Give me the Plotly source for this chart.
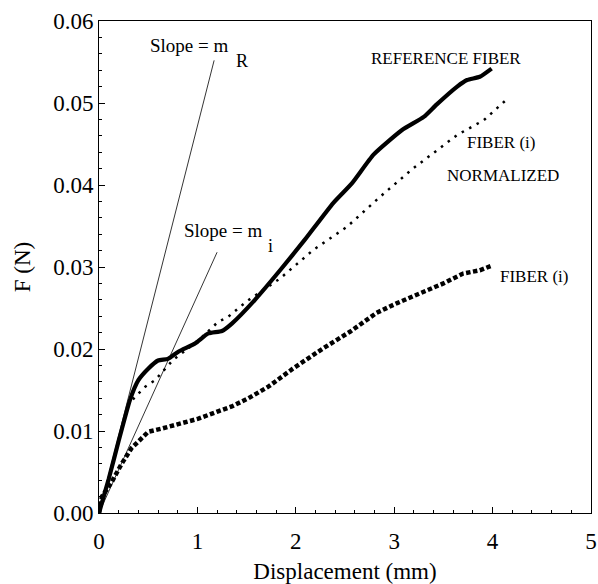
import plotly.graph_objects as go

# Reference fiber (solid)
ref_x = [0, 0.1, 0.2, 0.315, 0.40, 0.50, 0.60, 0.70, 0.81, 0.98, 1.11, 1.25, 1.35, 1.585,
         1.84, 2.09, 2.38, 2.57, 2.79, 3.08, 3.30, 3.43, 3.64, 3.74, 3.87, 3.99]
ref_F = [0, 0.0042, 0.0088, 0.0138, 0.0162, 0.0176, 0.0186, 0.0188, 0.0197, 0.0207, 0.0219,
         0.0222, 0.0231, 0.0260, 0.0296, 0.0333, 0.0378, 0.0402, 0.0437, 0.0467, 0.0483,
         0.0498, 0.0520, 0.0528, 0.0532, 0.0542]

# Fiber (i) normalized (small dots)
norm_x = [0, 0.1, 0.2, 0.3, 0.37, 0.47, 0.57, 0.67, 0.755, 0.9, 1.05, 1.21, 1.31, 1.5,
          1.84, 2.18, 2.52, 2.86, 3.19, 3.64, 3.91, 4.14]
norm_F = [0, 0.0042, 0.0088, 0.0132, 0.0142, 0.0154, 0.0162, 0.0176, 0.0187, 0.0200, 0.0215,
          0.0233, 0.0239, 0.0258, 0.0286, 0.0321, 0.0349, 0.0386, 0.0420, 0.0461, 0.0479, 0.0504]

# Fiber (i) raw (square dots)
fib_x = [0, 0.03, 0.13, 0.23, 0.33, 0.40, 0.50, 0.64, 0.81, 1.01, 1.21, 1.35, 1.52, 1.72,
         1.97, 2.28, 2.55, 2.82, 3.03, 3.26, 3.50, 3.70, 3.87, 4.0]
fib_F = [0, 0.002, 0.0038, 0.0060, 0.0079, 0.0087, 0.0099, 0.0103, 0.0109, 0.0115, 0.0124,
         0.0130, 0.0140, 0.0154, 0.0176, 0.0201, 0.0221, 0.0244, 0.0256, 0.0268, 0.0280,
         0.0292, 0.0296, 0.0302]

# Slope lines
slopeR_x = [0, 1.17]
slopeR_F = [0, 0.0552]
slopei_x = [0, 1.2]
slopei_F = [0, 0.0318]

x_ticks = [0, 1, 2, 3, 4, 5]
y_ticks = [0.00, 0.01, 0.02, 0.03, 0.04, 0.05, 0.06]

FONT = "Liberation Serif, Times New Roman, serif"

fig = go.Figure()
fig.add_trace(go.Scatter(x=slopeR_x, y=slopeR_F, mode="lines",
                         line=dict(color="black", width=0.8), showlegend=False))
fig.add_trace(go.Scatter(x=slopei_x, y=slopei_F, mode="lines",
                         line=dict(color="black", width=0.8), showlegend=False))
fig.add_trace(go.Scatter(x=fib_x, y=fib_F, mode="lines",
                         line=dict(color="black", width=4.5, dash="4.5px,2.5px"), showlegend=False))
fig.add_trace(go.Scatter(x=norm_x, y=norm_F, mode="lines",
                         line=dict(color="black", width=2.5, dash="2.5px,6px"), showlegend=False))
fig.add_trace(go.Scatter(x=ref_x, y=ref_F, mode="lines",
                         line=dict(color="black", width=4.2, shape="spline", smoothing=0.5),
                         showlegend=False))

annotations = [
    dict(x=0.498, y=0.05707, text="Slope = m", size=19, anchor="left"),
    dict(x=1.458, y=0.0551, text="R", size=18, anchor="center"),
    dict(x=0.8435, y=0.03451, text="Slope = m", size=19, anchor="left"),
    dict(x=1.743, y=0.03256, text="i", size=18, anchor="center"),
    dict(x=2.744, y=0.05537, text="REFERENCE FIBER", size=17, anchor="left"),
    dict(x=3.72, y=0.04524, text="FIBER (i)", size=17, anchor="left"),
    dict(x=3.516, y=0.0411, text="NORMALIZED", size=17, anchor="left"),
    dict(x=4.055, y=0.0289, text="FIBER (i)", size=17, anchor="left"),
]
for a in annotations:
    fig.add_annotation(x=a["x"], y=a["y"], text=a["text"], xref="x", yref="y",
                       xanchor=a["anchor"], yanchor="middle", showarrow=False,
                       font=dict(family=FONT, size=a["size"], color="black"))

fig.update_layout(
    width=598, height=584,
    margin=dict(l=99, r=7, t=21, b=71),
    paper_bgcolor="white", plot_bgcolor="white",
    font=dict(family=FONT, size=23, color="black"),
    showlegend=False,
)
fig.update_xaxes(
    range=[0, 5], tickvals=x_ticks, ticktext=[str(v) for v in x_ticks],
    ticks="inside", ticklen=6, tickwidth=1, tickcolor="black",
    minor=dict(dtick=0.2, ticks="inside", ticklen=3, tickcolor="black"),
    showline=True, linecolor="black", linewidth=1, mirror=True,
    showgrid=False, zeroline=False, automargin=False,
    ticklabelstandoff=7,
    title=dict(text="Displacement (mm)", font=dict(size=23), standoff=13),
    tickfont=dict(size=23),
)
fig.update_yaxes(
    range=[0, 0.06], tickvals=y_ticks, ticktext=[f"{v:.2f}" for v in y_ticks],
    ticks="inside", ticklen=6, tickwidth=1, tickcolor="black",
    minor=dict(dtick=0.002, ticks="inside", ticklen=3, tickcolor="black"),
    showline=True, linecolor="black", linewidth=1, mirror=True,
    showgrid=False, zeroline=False, automargin=False,
    title=dict(text="F (N)", font=dict(size=23), standoff=16),
    tickfont=dict(size=23),
)

fig.write_html("out.html", config={"displayModeBar": False},
               post_script="document.body.style.margin='0';document.body.style.overflow='hidden';")
